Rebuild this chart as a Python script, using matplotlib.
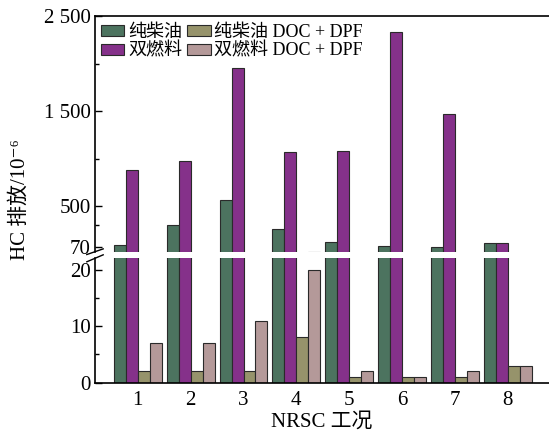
import matplotlib.pyplot as plt
import numpy as np

plt.rcParams['font.family'] = ['Liberation Serif', 'DejaVu Serif', 'Noto Sans CJK SC']

# NRSC test modes
modes = [1, 2, 3, 4, 5, 6, 7, 8]
diesel = [95, 305, 560, 260, 120, 85, 72, 110]
dual_fuel = [880, 970, 1950, 1070, 1080, 2335, 1468, 110]
diesel_doc_dpf = [2, 2, 2, 8, 1, 1, 1, 3]
dual_doc_dpf = [7, 7, 11, 20, 2, 1, 2, 3]

labels = ['纯柴油', '双燃料', '纯柴油 DOC + DPF', '双燃料 DOC + DPF']
colors = ['#4c735f', '#85318a', '#96936b', '#b49999']
series = [diesel, dual_fuel, diesel_doc_dpf, dual_doc_dpf]

fig = plt.figure(figsize=(5.49, 4.32), dpi=100)
W, H = 549, 432
left, right = 95 / W, 1.0
ax_top = fig.add_axes([left, 1 - 251.7 / H, right - left, (251.7 - 16) / H])
ax_bot = fig.add_axes([left, 1 - 382.7 / H, right - left, (382.7 - 258.3) / H])

x = np.array(modes, dtype=float)
w = 0.226
offsets = [-1.5 * w, -0.5 * w, 0.5 * w, 1.5 * w]

for ax in (ax_top, ax_bot):
    for vals, off, c, lab in zip(series, offsets, colors, labels):
        ax.bar(x + off, vals, width=w, color=c, edgecolor='#2a2a2a',
               linewidth=0.8, label=lab)
    ax.set_xlim(0.19, 8.78)
    ax.spines['right'].set_visible(False)
    for s in ax.spines.values():
        s.set_linewidth(1.2)
    ax.tick_params(axis='y', which='major', direction='in', length=5,
                   width=1.0, labelsize=15, pad=3)
    ax.tick_params(axis='y', which='minor', direction='in', length=3,
                   width=1.0)

ax_top.set_ylim(20, 2500)
ax_top.set_yticks([70, 500, 1500, 2500])
ax_top.set_yticklabels(['70', '500', '1 500', '2 500'])
ax_top.set_yticks([300, 1000, 2000], minor=True)
ax_top.spines['bottom'].set_visible(False)
ax_top.tick_params(axis='x', bottom=False, labelbottom=False)

ax_bot.set_ylim(0, 22)
ax_bot.set_yticks([0, 10, 20])
ax_bot.set_yticks([5, 15], minor=True)
ax_bot.spines['top'].set_visible(False)
ax_bot.set_xticks(modes)
ax_bot.tick_params(axis='x', length=0, labelsize=15, pad=6)
ax_bot.set_xlabel('NRSC 工况', fontsize=15, labelpad=2)

# break marks on the left spine
ax_top.plot([-0.018, 0.018], [-0.012, 0.012], transform=ax_top.transAxes,
            color='k', lw=1.0, clip_on=False)
ax_bot.plot([-0.018, 0.018], [1 - 0.028, 1 + 0.028], transform=ax_bot.transAxes,
            color='k', lw=1.0, clip_on=False)

fig.text(20 / W, 1 - 200 / H, 'HC 排放/10⁻⁶', rotation=90,
         ha='center', va='center', fontsize=15)

handles, labs = ax_top.get_legend_handles_labels()
ax_top.legend(handles, labs, ncol=2, loc='upper left', frameon=False,
              bbox_to_anchor=(4 / 454, 1 - 6 / 235.7),
              fontsize=13, handlelength=1.3, handleheight=0.6,
              handletextpad=0.2, columnspacing=0.3, labelspacing=0.1,
              borderaxespad=0, borderpad=0.1)

fig.savefig('out.png', dpi=100)
